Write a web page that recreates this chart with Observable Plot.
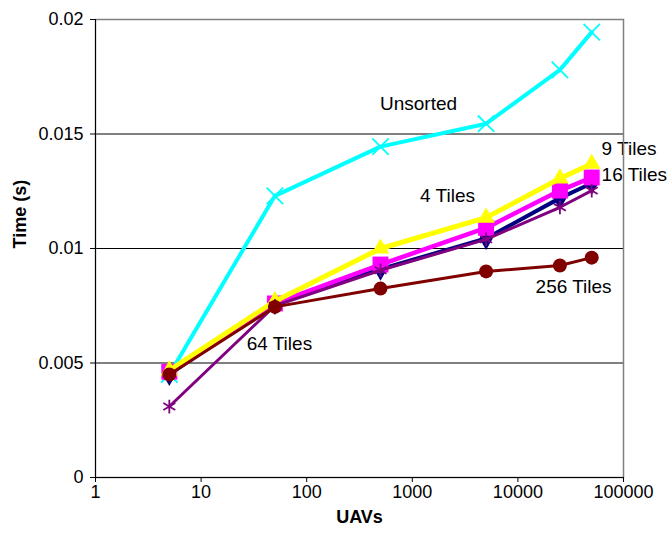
<!DOCTYPE html>
<html>
<head>
<meta charset="utf-8">
<script src="https://cdn.jsdelivr.net/npm/d3@7"></script>
<script src="https://cdn.jsdelivr.net/npm/@observablehq/plot@0.6"></script>
<style>
  html, body { margin: 0; padding: 0; background: #fff; }
</style>
</head>
<body>
<div id="chart"></div>
<script>
// UAV counts (x)
const uavs = [5, 50, 500, 5000, 25000, 50000];
// Time (s) per series
const unsorted = [0.0045, 0.0123, 0.01445, 0.01545, 0.0178, 0.01945];
const tiles4   = [0.0045, 0.0076, 0.0091, 0.01044, 0.0122, 0.01285];
const tiles9   = [0.00468, 0.0077, 0.0100, 0.01135, 0.01306, 0.0137];
const tiles16  = [0.00462, 0.0076, 0.0093, 0.0109, 0.01253, 0.0131];
const tiles64  = [0.0031, 0.0075, 0.00905, 0.0104, 0.0118, 0.01253];
const tiles256 = [0.0045, 0.00745, 0.00825, 0.0090, 0.00926, 0.0096];

const xTicks = [1, 10, 100, 1000, 10000, 100000];
const yTicks = [0, 0.005, 0.01, 0.015, 0.02];

// series labels placed in data space
const labelNames  = ["Unsorted", "4 Tiles", "9 Tiles", "16 Tiles", "256 Tiles", "64 Tiles"];
const labelUavs   = [1145, 2155, 62000, 62000, 14700, 27];
const labelTimes  = [0.01633, 0.01231, 0.01437, 0.01323, 0.00834, 0.00585];
const labelAnchor = ["middle", "middle", "start", "start", "start", "start"];

const series = [
  {name: "Unsorted",  values: unsorted, color: "#00FFFF", width: 4,   symbol: "times",    r: 7.5, stroke: true},
  {name: "4 Tiles",   values: tiles4,   color: "#000080", width: 4,   symbol: "diamond",  r: 7,   stroke: false},
  {name: "16 Tiles",  values: tiles16,  color: "#FF00FF", width: 4.5, symbol: "square",   r: 9,   stroke: false},
  {name: "9 Tiles",   values: tiles9,   color: "#FFFF00", width: 5,   symbol: "triangle", r: 6.5, stroke: false},
  {name: "64 Tiles",  values: tiles64,  color: "#800080", width: 3,   symbol: "asterisk", r: 6.5, stroke: true},
  {name: "256 Tiles", values: tiles256, color: "#800000", width: 3,   symbol: "circle",   r: 7,   stroke: false}
];

const marks = [
  Plot.ruleY(yTicks.filter(d => d > 0 && d < 0.02), {stroke: "#000", strokeWidth: 1})
];

for (const s of series) {
  const rows = uavs.map((u, i) => ({x: u, y: s.values[i]}));
  marks.push(Plot.line(rows, {x: "x", y: "y", stroke: s.color, strokeWidth: s.width}));
  if (s.stroke) {
    marks.push(Plot.dot(rows, {x: "x", y: "y", symbol: s.symbol, r: s.r, stroke: s.color, strokeWidth: 1.8, fill: "none"}));
  } else {
    marks.push(Plot.dot(rows, {x: "x", y: "y", symbol: s.symbol, r: s.r, fill: s.color, stroke: "none"}));
  }
}

const labelRows = labelNames.map((n, i) => ({n, x: labelUavs[i], y: labelTimes[i], a: labelAnchor[i]}));

marks.push(
  Plot.text(labelRows.filter(d => d.a === "middle"),
    {x: "x", y: "y", text: "n", textAnchor: "middle", fontSize: 19, fill: "#000"}),
  Plot.text(labelRows.filter(d => d.a === "start"),
    {x: "x", y: "y", text: "n", textAnchor: "start", fontSize: 19, fill: "#000"}),
  Plot.frame({stroke: "#808080", strokeWidth: 1.5}),
  Plot.ruleY([0], {stroke: "#000", strokeWidth: 1}),
  Plot.ruleX([1], {stroke: "#000", strokeWidth: 1}),
  Plot.axisX({ticks: xTicks, tickFormat: d => String(d), tickSize: 5, tickPadding: 3, label: null, fontSize: 18}),
  Plot.axisY({ticks: yTicks, tickFormat: d => String(+d.toFixed(3)), tickSize: 5, tickPadding: 7, label: null, fontSize: 18}),
  Plot.text(["UAVs"], {frameAnchor: "bottom", dy: 45, text: d => d, fontSize: 18, fontWeight: "bold", fill: "#000"}),
  Plot.text(["Time (s)"], {frameAnchor: "left", dx: -75, rotate: -90, text: d => d, fontSize: 18, fontWeight: "bold", fill: "#000"})
);

const chart = Plot.plot({
  width: 669,
  height: 537,
  marginLeft: 95,
  marginRight: 46,
  marginTop: 19,
  marginBottom: 60,
  style: {fontFamily: "'Liberation Sans', Arial, sans-serif", fontSize: "18px", color: "#000", background: "#fff", overflow: "visible"},
  x: {type: "log", domain: [1, 100000]},
  y: {domain: [0, 0.02]},
  marks
});
document.getElementById("chart").appendChild(chart);
</script>
</body>
</html>
